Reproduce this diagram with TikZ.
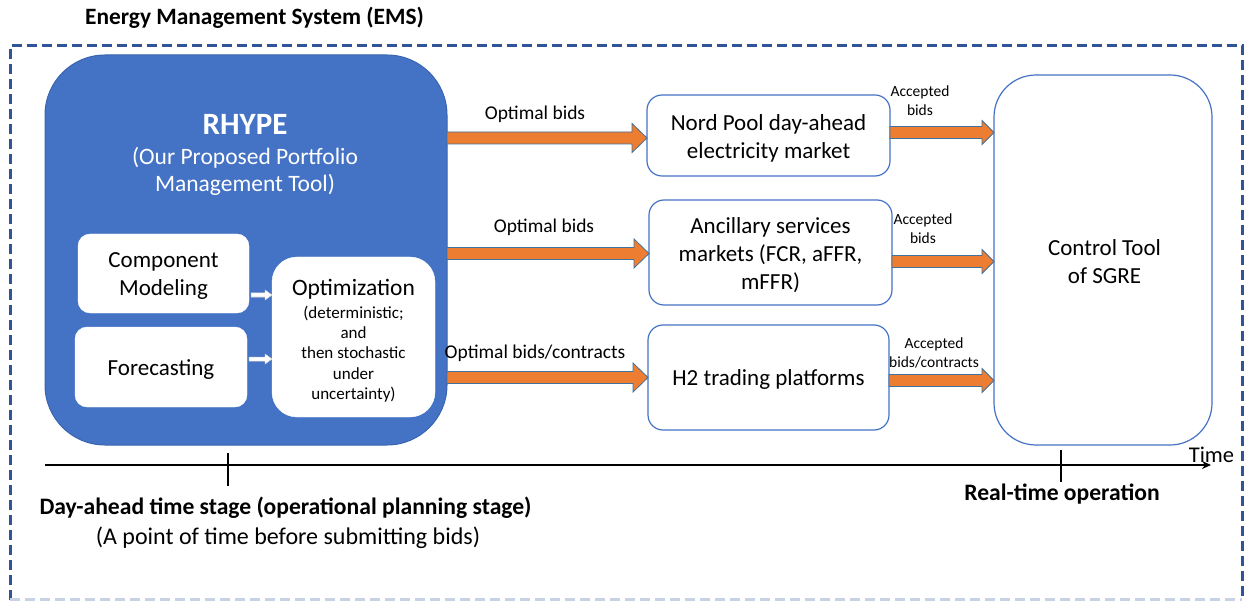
\documentclass[tikz,border=0pt]{standalone}
\usepackage{fontspec}
\setmainfont{Carlito}
\usetikzlibrary{calc,arrows.meta}
\definecolor{emsblue}{HTML}{2F5597}
\definecolor{rblue}{HTML}{4472C4}
\definecolor{rblueline}{HTML}{3A64B0}
\definecolor{oline}{HTML}{41719C}
\definecolor{borange}{HTML}{ED7D31}
\definecolor{lightdash}{HTML}{C8D2E6}
\newcommand{\blockarr}[6]{\draw[#1] ($(#2)+(0,-#4)$) -- ($(#3)+(-#6,-#4)$) -- ($(#3)+(-#6,-#5)$) -- (#3) -- ($(#3)+(-#6,#5)$) -- ($(#3)+(-#6,#4)$) -- ($(#2)+(0,#4)$) -- cycle;}
\begin{document}
\begin{tikzpicture}[x=1pt,y=-1pt,
  every node/.style={inner sep=0pt, outer sep=0pt},
  emsdash/.style={draw=emsblue, line width=3pt, dash pattern=on 10pt off 5pt},
  rhypebox/.style={draw=rblueline, line width=1pt, fill=rblue, rounded corners=60pt},
  innerbox/.style={draw=white, fill=white, rounded corners=12pt},
  mktbox/.style={draw=rblue, line width=1.2pt, fill=white, rounded corners=15pt},
  boxtxt/.style={align=center, font=\fontsize{23}{28}\selectfont},
  lbl/.style={font=\fontsize{19.5}{23}\selectfont},
  albl/.style={font=\fontsize{15.5}{19}\selectfont, align=center},
  orarrow/.style={fill=borange, draw=oline, line width=0.8pt, line join=miter},
  wharrow/.style={fill=white, draw=black!15, line width=0.5pt},
  axis/.style={draw=black, line width=1.8pt},
  tick/.style={draw=black, line width=1.5pt},
  boldtxt/.style={font=\bfseries\fontsize{23.6}{27}\selectfont},
  regtxt/.style={font=\fontsize{24}{28}\selectfont}
]
\useasboundingbox (0,0) rectangle (1246,601);
\fill[white] (0,0) rectangle (1246,601);

% title and frame
\node[font=\bfseries\fontsize{23.4}{28}\selectfont] (ttl) at (254.5,18) {Energy Management System (EMS)};
\draw[emsdash] (10,599.5) -- (10,46) -- (1242,46) -- (1242,599.5);
\draw[emsdash, draw=lightdash] (10,599.5) -- (1242,599.5);

% RHYPE
\node[rhypebox, minimum width=402, minimum height=390] (rhype) at (246,250) {};
\node[text=white, font=\bfseries\fontsize{31}{36}\selectfont] (rhypet) at (245,124) {RHYPE};
\node[text=white, font=\fontsize{23.5}{27}\selectfont, align=center] (rhypes) at (245,171) {(Our Proposed Portfolio\\Management Tool)};

\node[innerbox, minimum width=171, minimum height=79] (comp) at (163.5,273.5) {};
\node[boxtxt] (compt) at ($(comp.center)+(0,3)$) {Component\\Modeling};
\node[innerbox, minimum width=172, minimum height=80] (fore) at (161,367) {};
\node[boxtxt] (foret) at ($(fore.center)+(0,2.5)$) {Forecasting};
\node[innerbox, rounded corners=25pt, minimum width=163, minimum height=160] (opt) at (353.5,337) {};
\node[font=\fontsize{23.5}{27}\selectfont] (optt) at (353.5,289) {Optimization};
\node[font=\fontsize{17}{20.3}\selectfont, align=center] (opts) at (353.5,354) {(deterministic;\\and\\then stochastic\\under\\uncertainty)};

% white arrows
\coordinate (w1s) at ($(comp.east |- 0,295)+(2,0)$);
\coordinate (w1e) at (opt.west |- w1s);
\coordinate (w2s) at ($(fore.east |- 0,359)+(2,0)$);
\coordinate (w2e) at (opt.west |- w2s);
\blockarr{wharrow}{w1s}{w1e}{2}{5}{7}
\blockarr{wharrow}{w2s}{w2e}{2}{5}{7}

% market boxes
\node[mktbox, minimum width=243, minimum height=81] (nord) at (768.5,135.5) {};
\node[boxtxt] (nordt) at ($(nord.center)+(0,3)$) {Nord Pool day-ahead\\electricity market};
\node[mktbox, minimum width=243, minimum height=105] (anc) at (770.5,252.5) {};
\node[boxtxt] (anct) at ($(anc.center)+(0,3)$) {Ancillary services\\markets (FCR, aFFR,\\mFFR)};
\node[mktbox, minimum width=241, minimum height=105] (h2) at (768.5,377.5) {};
\node[boxtxt] (h2t) at ($(h2.center)+(0,2)$) {H2 trading platforms};
\node[mktbox, rounded corners=42pt, minimum width=218, minimum height=370] (ctrl) at (1103,260) {};
\node[boxtxt] (ctrlt) at ($(ctrl.center)+(1.5,1.5)$) {Control Tool\\of SGRE};

% orange arrows: optimal bids
\coordinate (o1s) at (rhype.east |- 0,138);
\coordinate (o1e) at (nord.west |- o1s);
\coordinate (o2s) at (rhype.east |- 0,253.5);
\coordinate (o2e) at (anc.west |- o2s);
\coordinate (o3s) at (rhype.east |- 0,377.5);
\coordinate (o3e) at (h2.west |- o3s);
\blockarr{orarrow}{o1s}{o1e}{6}{14.5}{15}
\blockarr{orarrow}{o2s}{o2e}{6}{14.5}{15}
\blockarr{orarrow}{o3s}{o3e}{6}{14.5}{15}

% orange arrows: accepted
\coordinate (a1s) at (nord.east |- 0,132.5);
\coordinate (a1e) at (ctrl.west |- a1s);
\coordinate (a2s) at (anc.east |- 0,261.5);
\coordinate (a2e) at (ctrl.west |- a2s);
\coordinate (a3s) at (h2.east |- 0,380.5);
\coordinate (a3e) at (ctrl.west |- a3s);
\blockarr{orarrow}{a1s}{a1e}{6}{12}{12}
\blockarr{orarrow}{a2s}{a2e}{6}{12}{12}
\blockarr{orarrow}{a3s}{a3e}{6}{12}{12}

% labels
\node[lbl] (l1) at (535,114) {Optimal bids};
\node[lbl] (l2) at (544,227) {Optimal bids};
\node[lbl] (l3) at (535,353) {Optimal bids/contracts};
\node[albl] (al1) at (920,101) {Accepted\\bids};
\node[albl] (al2) at (923,228.5) {Accepted\\bids};
\node[albl] (al3) at (934,353) {Accepted\\bids/contracts};

% time axis
\coordinate (ax0) at (45,465);
\coordinate (ax1) at (1211,465);
\draw[axis, -{Stealth[length=9pt,width=8pt]}] (ax0) -- (ax1);
\coordinate (tk1a) at (228,453);
\coordinate (tk1b) at (228,486);
\coordinate (tk2a) at (1061,450);
\coordinate (tk2b) at (1061,482);
\draw[tick] (tk1a) -- (tk1b);
\draw[tick] (tk2a) -- (tk2b);
\node[font=\fontsize{22.5}{27}\selectfont] (time) at (1211.5,455) {Time};
\node[boldtxt] (dah) at (285.5,508) {Day-ahead time stage (operational planning stage)};
\node[regtxt] (apt) at (288,537.5) {(A point of time before submitting bids)};
\node[boldtxt] (rto) at (1062,494) {Real-time operation};
\end{tikzpicture}
\end{document}
